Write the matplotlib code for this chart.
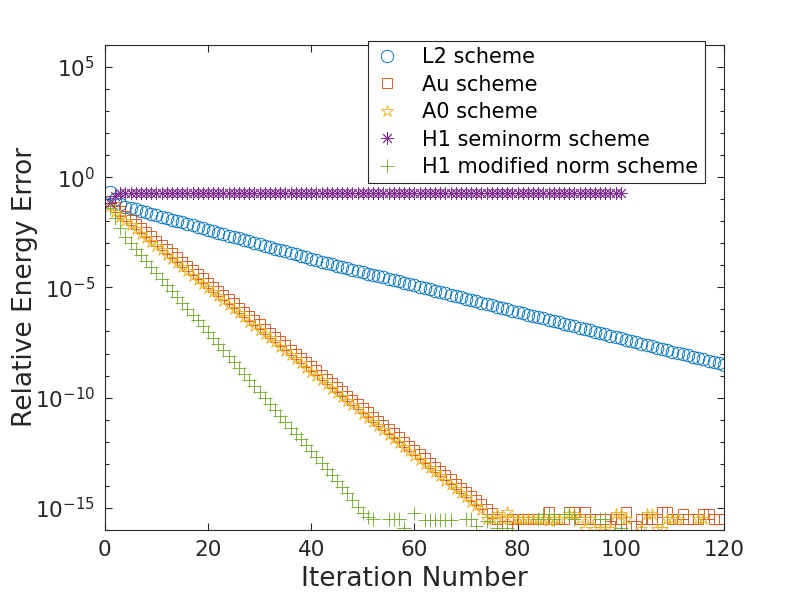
import numpy as np
import matplotlib
matplotlib.use("Agg")
import matplotlib.pyplot as plt

nan = np.nan

# log10 of the relative energy error
l2_exp = [-0.68, -1.00, -1.20, -1.33, -1.40, -1.46, -1.53, -1.59, -1.66, -1.73,
          -1.79, -1.86, -1.92, -1.99, -2.05, -2.12, -2.19, -2.25, -2.32, -2.38,
          -2.45, -2.52, -2.58, -2.65, -2.71, -2.78, -2.84, -2.91, -2.98, -3.04,
          -3.11, -3.17, -3.24, -3.30, -3.37, -3.44, -3.50, -3.57, -3.63, -3.70,
          -3.77, -3.83, -3.89, -3.95, -4.01, -4.07, -4.13, -4.19, -4.25, -4.31,
          -4.37, -4.43, -4.49, -4.55, -4.61, -4.67, -4.73, -4.79, -4.85, -4.91,
          -4.97, -5.03, -5.09, -5.15, -5.21, -5.27, -5.33, -5.39, -5.45, -5.51,
          -5.57, -5.63, -5.69, -5.75, -5.81, -5.87, -5.93, -5.99, -6.05, -6.11,
          -6.17, -6.23, -6.29, -6.35, -6.41, -6.47, -6.53, -6.59, -6.65, -6.71,
          -6.77, -6.83, -6.89, -6.95, -7.01, -7.07, -7.13, -7.19, -7.25, -7.31,
          -7.37, -7.43, -7.49, -7.55, -7.61, -7.67, -7.73, -7.79, -7.85, -7.91,
          -7.97, -8.03, -8.09, -8.15, -8.21, -8.27, -8.33, -8.39, -8.45, -8.51]

au_exp = [-1.10, -1.35, -1.55, -1.74, -1.93, -2.12, -2.31, -2.50, -2.69, -2.88,
          -3.07, -3.26, -3.45, -3.64, -3.83, -4.02, -4.21, -4.40, -4.59, -4.78,
          -4.97, -5.16, -5.35, -5.54, -5.73, -5.92, -6.11, -6.30, -6.49, -6.68,
          -6.87, -7.06, -7.25, -7.44, -7.63, -7.82, -8.01, -8.20, -8.39, -8.58,
          -8.77, -8.96, -9.15, -9.34, -9.53, -9.72, -9.91, -10.10, -10.29, -10.48,
          -10.67, -10.86, -11.05, -11.24, -11.43, -11.62, -11.81, -12.00, -12.19, -12.38,
          -12.57, -12.76, -12.95, -13.14, -13.33, -13.52, -13.71, -13.90, -14.09, -14.28,
          -14.47, -14.66, -14.85, -15.04, -15.22, -15.50, -15.85, -15.85, -15.50, -15.50,
          -15.50, -15.50, -15.50, -15.50, -15.50, -15.20, -15.50, -15.50, -15.50, -15.20,
          -15.20, -15.50, -15.20, -15.50, -15.50, -15.50, -15.50, -15.85, -15.50, -15.50,
          -15.20, -15.85, -15.85, -15.50, -15.50, -15.50, -15.50, -15.20, -15.20, -15.50,
          -15.50, -15.30, -15.50, -15.50, -15.50, -15.30, -15.30, -15.50, -15.50, -15.50]

a0_exp = [-1.30, -1.58, -1.80, -1.99, -2.18, -2.37, -2.56, -2.75, -2.94, -3.13,
          -3.32, -3.51, -3.70, -3.89, -4.08, -4.27, -4.46, -4.65, -4.84, -5.03,
          -5.22, -5.41, -5.60, -5.79, -5.98, -6.17, -6.36, -6.55, -6.74, -6.93,
          -7.12, -7.31, -7.50, -7.69, -7.88, -8.07, -8.26, -8.45, -8.64, -8.83,
          -9.02, -9.21, -9.40, -9.59, -9.78, -9.97, -10.16, -10.35, -10.54, -10.73,
          -10.92, -11.11, -11.30, -11.49, -11.68, -11.87, -12.06, -12.25, -12.44, -12.63,
          -12.82, -13.01, -13.20, -13.39, -13.58, -13.77, -13.96, -14.15, -14.34, -14.53,
          -14.72, -14.91, -15.10, -15.50, -15.50, -15.30, -15.50, -15.20, -15.50, -15.50,
          -15.50, -15.50, -15.50, -15.50, -15.50, -15.60, -15.50, -15.50, nan, -15.30,
          -15.30, -15.50, -15.95, -15.50, -15.95, -15.95, -15.95, -15.95, -15.30, -15.30,
          -15.50, nan, nan, -15.95, -15.30, -15.30, -15.95, -15.95, -15.50, -15.50,
          -15.50, nan, nan, nan, -15.50, -15.50, nan, nan, nan, nan]

h1semi_exp = [-1.15, -0.85] + [-0.72] * 98

h1mod_exp = [-1.40, -1.85, -2.30, -2.72, -2.99, -3.26, -3.53, -3.80, -4.07, -4.34,
             -4.61, -4.88, -5.15, -5.42, -5.69, -5.96, -6.23, -6.50, -6.77, -7.04,
             -7.31, -7.58, -7.85, -8.12, -8.39, -8.66, -8.93, -9.20, -9.47, -9.74,
             -10.01, -10.28, -10.55, -10.82, -11.09, -11.36, -11.63, -11.90, -12.17, -12.44,
             -12.71, -12.98, -13.25, -13.52, -13.79, -14.06, -14.33, -14.65, -14.95, -15.25,
             -15.40, -15.50, nan, nan, -15.50, -15.50, -15.50, -15.90, nan, -15.25,
             nan, -15.55, -15.55, -15.55, -15.55, -15.55, -15.55, nan, nan, -15.50,
             -15.50, -15.85, nan, -15.60, nan, -15.90, nan, -15.90, nan, nan,
             nan, nan, nan, -15.50, -15.30, -15.30, -15.50, nan, -15.30, -15.30,
             -15.50, nan, nan, nan, nan, -15.50, -15.50, nan, nan, -15.90]

labels = ['L2 scheme', 'Au scheme', 'A0 scheme', 'H1 seminorm scheme', 'H1 modified norm scheme']
colors = ['#0072BD', '#D95319', '#EDB120', '#7E2F8E', '#77AC30']

series = [l2_exp, au_exp, a0_exp, h1semi_exp, h1mod_exp]
markers = ['o', 's', '*', (8, 2, 0), '+']
msizes = [9, 7.5, 9, 9, 10]

axcol = '#262626'

fig = plt.figure(figsize=(8, 6), dpi=100)
ax = fig.add_axes([0.131, 0.117, 0.774, 0.808])

for vals, lab, col, mk, ms in zip(series, labels, colors, markers, msizes):
    it = np.arange(1, len(vals) + 1)
    err = 10.0 ** np.array(vals, dtype=float)
    ax.semilogy(it, err, linestyle='none', marker=mk, markersize=ms,
                markerfacecolor='none', markeredgecolor=col, markeredgewidth=0.65,
                label=lab)

ax.set_xlim(0, 120)
ax.set_ylim(1e-16, 1e6)
ax.set_xticks([0, 20, 40, 60, 80, 100, 120])
ax.set_yticks([1e-15, 1e-10, 1e-5, 1e0, 1e5])
ax.set_yticks([10.0 ** k for k in range(-16, 7)], minor=True)
ax.yaxis.set_minor_formatter(matplotlib.ticker.NullFormatter())

ax.tick_params(which='both', direction='in', top=True, right=True,
               colors=axcol, labelsize=15.5, pad=7)
ax.tick_params(which='major', length=5, width=0.8)
ax.tick_params(which='minor', length=3, width=0.8)
for sp in ax.spines.values():
    sp.set_color(axcol)
    sp.set_linewidth(0.8)

ax.set_xlabel('Iteration Number', fontsize=19, color=axcol, labelpad=5)
ax.set_ylabel('Relative Energy Error', fontsize=19, color=axcol, labelpad=-2)

leg = ax.legend(loc='upper right', bbox_to_anchor=(0.881, 0.932),
                bbox_transform=fig.transFigure, fontsize=15, fancybox=False,
                framealpha=1, edgecolor=axcol, borderpad=0.3, labelspacing=0.36,
                handlelength=1.2, handletextpad=1.1, borderaxespad=0)
leg.get_frame().set_linewidth(0.8)

fig.savefig('out.png', dpi=100)
